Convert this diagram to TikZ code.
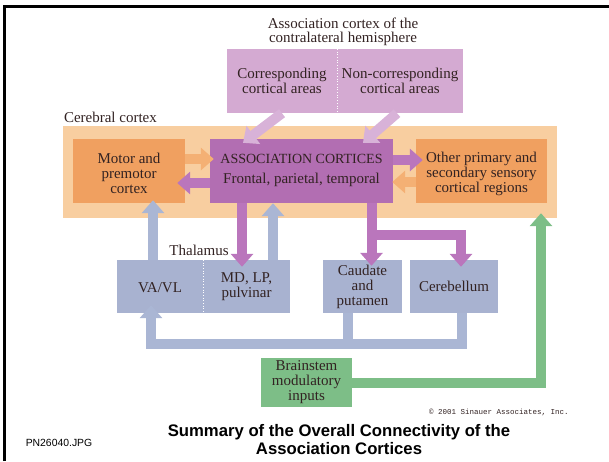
\documentclass[tikz,border=0pt]{standalone}
\usepackage{fontspec}
\setmainfont{Liberation Serif}
\setsansfont{Liberation Sans}
\setmonofont{Liberation Mono}
\usetikzlibrary{arrows.meta}

\definecolor{ink}{RGB}{50,34,34}
\definecolor{cortexbg}{RGB}{248,206,160}
\definecolor{orangebox}{RGB}{240,160,96}
\definecolor{orangearr}{RGB}{244,176,116}
\definecolor{assocbox}{RGB}{178,110,178}
\definecolor{purparr}{RGB}{186,118,188}
\definecolor{contrabox}{RGB}{212,170,210}
\definecolor{contraarr}{RGB}{216,178,216}
\definecolor{bluebox}{RGB}{168,178,208}
\definecolor{bluearr}{RGB}{170,182,212}
\definecolor{greenbox}{RGB}{125,190,135}

\begin{document}
\begin{tikzpicture}[x=1pt, y=-1pt,
    font=\fontsize{15}{15}\selectfont,
    every node/.style={text=ink},
    fat/.style={line width=10pt, -{Triangle[length=13pt, width=22pt]}}
    ]

    \useasboundingbox (0,0) rectangle (609,461);
    \draw[line width=3pt] (4.5,461) -- (4.5,6.5) -- (609,6.5);

    % contralateral hemisphere
    \node[align=center, font=\fontsize{15}{14}\selectfont] (contra) at (343,32)
        {Association cortex of the\\contralateral hemisphere};

    \node[rectangle,
          inner sep=0pt,
          fill = contrabox,
          minimum width = 110pt,
          minimum height = 64pt
          ] (corr) at (282,81) {};
    \node[align=center] at (corr.center) {Corresponding\\cortical areas};

    \node[rectangle,
          inner sep=0pt,
          fill = contrabox,
          minimum width = 126pt,
          minimum height = 64pt
          ] (noncorr) at (400,81) {};
    \node[align=center] at (noncorr.center) {Non-corresponding\\cortical areas};
    \draw[white, dotted, line width=0.7pt] (corr.north east) -- (corr.south east);

    % cerebral cortex
    \node[rectangle,
          inner sep=0pt,
          fill = cortexbg,
          minimum width = 494pt,
          minimum height = 92pt
          ] (cortex) at (310,172) {};
    \node[anchor=south west, inner sep=0pt] (cortexlab) at ([xshift=1pt, yshift=3pt]cortex.north west) {Cerebral cortex};

    \node[rectangle,
          inner sep=0pt,
          fill = orangebox,
          minimum width = 112pt,
          minimum height = 64pt
          ] (motor) at (129,171) {};
    \node[align=center] at ([yshift=-2pt]motor.center) {Motor and\\premotor\\cortex};

    \node[rectangle,
          inner sep=0pt,
          fill = assocbox,
          minimum width = 183pt,
          minimum height = 64pt
          ] (assoc) at (301.5,171) {};
    \node[align=center] at ([yshift=1pt]assoc.center)
        {{\fontsize{14}{15}\selectfont ASSOCIATION CORTICES}\\[5pt]Frontal, parietal, temporal};

    \node[rectangle,
          inner sep=0pt,
          fill = orangebox,
          minimum width = 131pt,
          minimum height = 64pt
          ] (other) at (481.5,171) {};
    \node[align=center] at ([yshift=-3pt]other.center) {Other primary and\\secondary sensory\\cortical regions};

    % subcortical
    \node[] (thal) at (199,250) {Thalamus};

    \node[rectangle,
          inner sep=0pt,
          fill = bluebox,
          minimum width = 86pt,
          minimum height = 53pt
          ] (vavl) at (160,286.5) {};
    \node[] at ([yshift=-1pt]vavl.center) {VA/VL};

    \node[rectangle,
          inner sep=0pt,
          fill = bluebox,
          minimum width = 87pt,
          minimum height = 53pt
          ] (mdlp) at (246.5,286.5) {};
    \node[align=center] at (mdlp.center) {MD, LP,\\pulvinar};
    \draw[white, dotted, line width=0.7pt] (vavl.north east) -- (vavl.south east);

    \node[rectangle,
          inner sep=0pt,
          fill = bluebox,
          minimum width = 79pt,
          minimum height = 53pt
          ] (caud) at (362.5,286.5) {};
    \node[align=center] at (caud.center) {Caudate\\and\\putamen};

    \node[rectangle,
          inner sep=0pt,
          fill = bluebox,
          minimum width = 88pt,
          minimum height = 53pt
          ] (cereb) at (454,286.5) {};
    \node[] at (cereb.center) {Cerebellum};

    \node[rectangle,
          inner sep=0pt,
          fill = greenbox,
          minimum width = 91pt,
          minimum height = 49pt
          ] (brain) at (306.5,382.5) {};
    \node[align=center] at (brain.center) {Brainstem\\modulatory\\inputs};

    \coordinate (fork) at (371.5,235);
    \coordinate (loop) at (348,344);

    % arrows in the cortex
    \draw[fat, contraarr] (corr.south) -- ([xshift=-58.5pt, yshift=-4pt]assoc.north);
    \draw[fat, contraarr] ([xshift=-3pt]noncorr.south) -- ([xshift=61.5pt, yshift=-4pt]assoc.north);
    \draw[fat, orangearr, shorten >=-4pt] ([yshift=12pt]motor.east) -- ([yshift=12pt]motor.east -| assoc.west);
    \draw[fat, purparr, shorten >=-8pt] ([yshift=-12pt]assoc.west) -- ([yshift=-12pt]assoc.west -| motor.east);
    \draw[fat, purparr, shorten >=-7pt] ([yshift=11pt]assoc.east) -- ([yshift=11pt]assoc.east -| other.west);
    \draw[fat, orangearr, shorten >=-1pt] ([yshift=-11pt]other.west) -- ([yshift=-11pt]other.west -| assoc.east);

    % thalamus and the rest
    \draw[fat, bluearr, shorten >=-3pt] ([xshift=-7pt]vavl.north) -- ([xshift=-7pt]vavl.north |- motor.south);
    \draw[fat, purparr, shorten >=-7pt] ([xshift=-4.5pt]mdlp.north |- assoc.south) -- ([xshift=-4.5pt]mdlp.north);
    \draw[fat, bluearr] ([xshift=26.5pt]mdlp.north) -- ([xshift=26.5pt]mdlp.north |- assoc.south);
    \draw[fat, purparr, shorten >=-6pt] (fork |- assoc.south) -- (fork |- caud.north);
    \draw[fat, purparr, shorten >=-7pt] (fork) -| ([xshift=7pt]cereb.north);

    \draw[fat, -, bluearr] ([xshift=8pt]cereb.south) |- (loop);
    \draw[fat, bluearr, shorten >=-8pt] ([xshift=-14.5pt]caud.south) |- ([xshift=-9pt]vavl.south |- loop) -- ([xshift=-9pt]vavl.south);

    \draw[fat, greenbox, shorten >=-5pt] (brain.east) -| ([xshift=231pt]cortex.south);

    % captions
    \node[font=\ttfamily\fontsize{7.5}{8}\selectfont] (copy) at (499,412) {\textcopyright{} 2001 Sinauer Associates, Inc.};
    \node[align=center, font=\sffamily\bfseries\fontsize{16.7}{18}\selectfont, text=black] (title) at (339,440)
        {Summary of the Overall Connectivity of the\\Association Cortices};
    \node[font=\sffamily\fontsize{10.4}{12}\selectfont, text=black] (pn) at (59,443) {PN26040.JPG};

\end{tikzpicture}
\end{document}
